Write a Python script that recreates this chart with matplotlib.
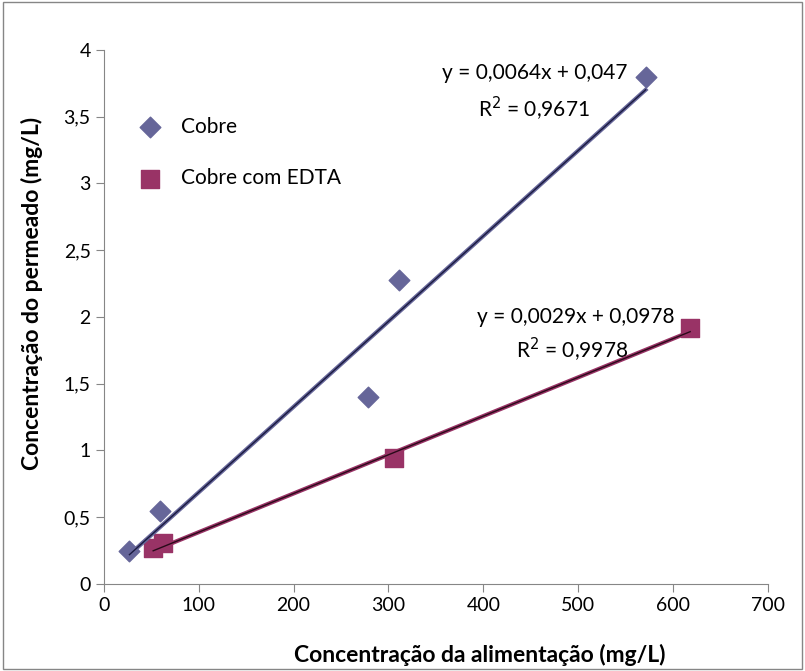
import numpy as np
import matplotlib.pyplot as plt
from matplotlib.ticker import FuncFormatter, MultipleLocator
from matplotlib.patches import Rectangle

plt.rcParams['font.family'] = ['Lato', 'DejaVu Sans']

# data
cobre_x = [27, 59, 278, 311, 571]
cobre_y = [0.25, 0.55, 1.40, 2.28, 3.80]
edta_x = [52, 62, 306, 618]
edta_y = [0.27, 0.31, 0.94, 1.92]

# trendlines as given in the chart
cobre_a, cobre_b = 0.0064, 0.047
edta_a, edta_b = 0.0029, 0.0978

cobre_col = '#666699'
edta_col = '#993366'
grey = '#868686'

fig = plt.figure(figsize=(8.05, 6.71), dpi=100)
ax = fig.add_axes([0.129, 0.1297, 0.825, 0.7958])

ax.scatter(cobre_x, cobre_y, marker='D', s=110, color=cobre_col, label='Cobre', zorder=3)
ax.scatter(edta_x, edta_y, marker='s', s=170, color=edta_col, label='Cobre com EDTA', zorder=3)

xs = np.array([min(cobre_x), max(cobre_x)])
ax.plot(xs, cobre_a * xs + cobre_b, color=cobre_col, lw=3, zorder=4)
ax.plot(xs, cobre_a * xs + cobre_b, color='#1a1a40', lw=1, zorder=5)
xs = np.array([min(edta_x), max(edta_x)])
ax.plot(xs, edta_a * xs + edta_b, color=edta_col, lw=3, zorder=4)
ax.plot(xs, edta_a * xs + edta_b, color='#2a0a1a', lw=1, zorder=5)

ax.text(454, 3.83, 'y = 0,0064x + 0,047', ha='center', va='center', fontsize=15)
ax.text(453, 3.56, r'R$^2$ = 0,9671', ha='center', va='center', fontsize=15)
ax.text(497, 2.0, 'y = 0,0029x + 0,0978', ha='center', va='center', fontsize=15)
ax.text(494, 1.75, r'R$^2$ = 0,9978', ha='center', va='center', fontsize=15)

ax.set_xlim(0, 700)
ax.set_ylim(0, 4)
ax.xaxis.set_major_locator(MultipleLocator(100))
ax.yaxis.set_major_locator(MultipleLocator(0.5))
fmt = FuncFormatter(lambda v, p: ('%g' % v).replace('.', ','))
ax.xaxis.set_major_formatter(fmt)
ax.yaxis.set_major_formatter(fmt)
for s in ['top', 'right']:
    ax.spines[s].set_visible(False)
for s in ['left', 'bottom']:
    ax.spines[s].set_color(grey)
ax.tick_params(colors=grey, labelcolor='black', labelsize=14, length=6, direction='out')

ax.set_xlabel('Concentração da alimentação (mg/L)', fontsize=16.5, fontweight='bold',
              va='center')
ax.set_ylabel('Concentração do permeado (mg/L)', fontsize=16.5, fontweight='bold',
              va='center')
ax.xaxis.set_label_coords(0.566, -0.133)
ax.yaxis.set_label_coords(-0.108, 0.545)

ax.legend(loc='upper left', bbox_to_anchor=(0.01, 0.91), frameon=False, fontsize=15,
          labelspacing=1.5, handletextpad=0.5, scatterpoints=1)

fig.patches.append(Rectangle((0.004, 0.003), 0.992, 0.994, transform=fig.transFigure,
                             fill=False, edgecolor=grey, lw=1))

fig.savefig('out.png', dpi=100)
